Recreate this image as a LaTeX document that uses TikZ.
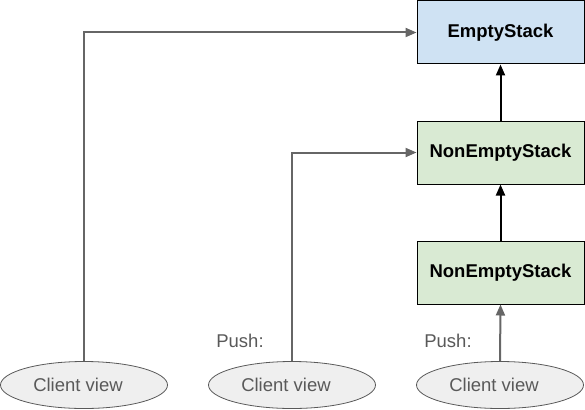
\documentclass[tikz,border=0pt]{standalone}
\usepackage{fontspec}
\setmainfont{Liberation Sans}
\usetikzlibrary{arrows.meta,shapes.geometric}
\definecolor{bluefill}{HTML}{CFE2F3}
\definecolor{greenfill}{HTML}{D9EAD3}
\definecolor{ellfill}{HTML}{EFEFEF}
\definecolor{linegray}{HTML}{666666}
\definecolor{textgray}{HTML}{595959}
\begin{document}
\begin{tikzpicture}[x=1pt,y=-1pt,
  stackbox/.style={draw=black,line width=1pt,minimum width=167pt,minimum height=63pt,font=\fontsize{18.5}{22}\selectfont\bfseries,inner sep=0pt},
  client/.style={ellipse,draw=textgray,fill=ellfill,line width=0.8pt,minimum width=167pt,minimum height=47pt,inner sep=0pt},
  ctext/.style={text=textgray,font=\fontsize{18.5}{22}\selectfont,inner sep=0pt},
  glabel/.style={text=textgray,font=\fontsize{18.5}{22}\selectfont,inner sep=0pt},
  grayarrow/.style={draw=linegray,line width=2pt,-{Triangle[length=11pt,width=9pt]}},
  blackarrow/.style={draw=black,line width=2pt,-{Triangle[length=11pt,width=9pt]}}]
\useasboundingbox (0,0) rectangle (585,409);
\node[stackbox,fill=bluefill] (es) at (500.5,32.5) {EmptyStack};
\node[stackbox,fill=greenfill] (ne1) at (500.5,152.5) {NonEmptyStack};
\node[stackbox,fill=greenfill] (ne2) at (500.5,272.5) {NonEmptyStack};
\node[client] (c1) at (84,385) {};
\node[client] (c2) at (292,385) {};
\node[client] (c3) at (500,385) {};
\node[ctext] (t1) at (78,385) {Client view};
\node[ctext] (t2) at (286,385) {Client view};
\node[ctext] (t3) at (494,385) {Client view};
\node[glabel] (p1) at (240,341) {Push:};
\node[glabel] (p2) at (448,341) {Push:};
\draw[grayarrow] (c1.north) |- (es.west);
\draw[grayarrow] (c2.north) |- (ne1.west);
\draw[grayarrow] (c3.north) -- (ne2.south);
\draw[blackarrow] (ne2.north) -- (ne1.south);
\draw[blackarrow] (ne1.north) -- (es.south);
\end{tikzpicture}
\end{document}
